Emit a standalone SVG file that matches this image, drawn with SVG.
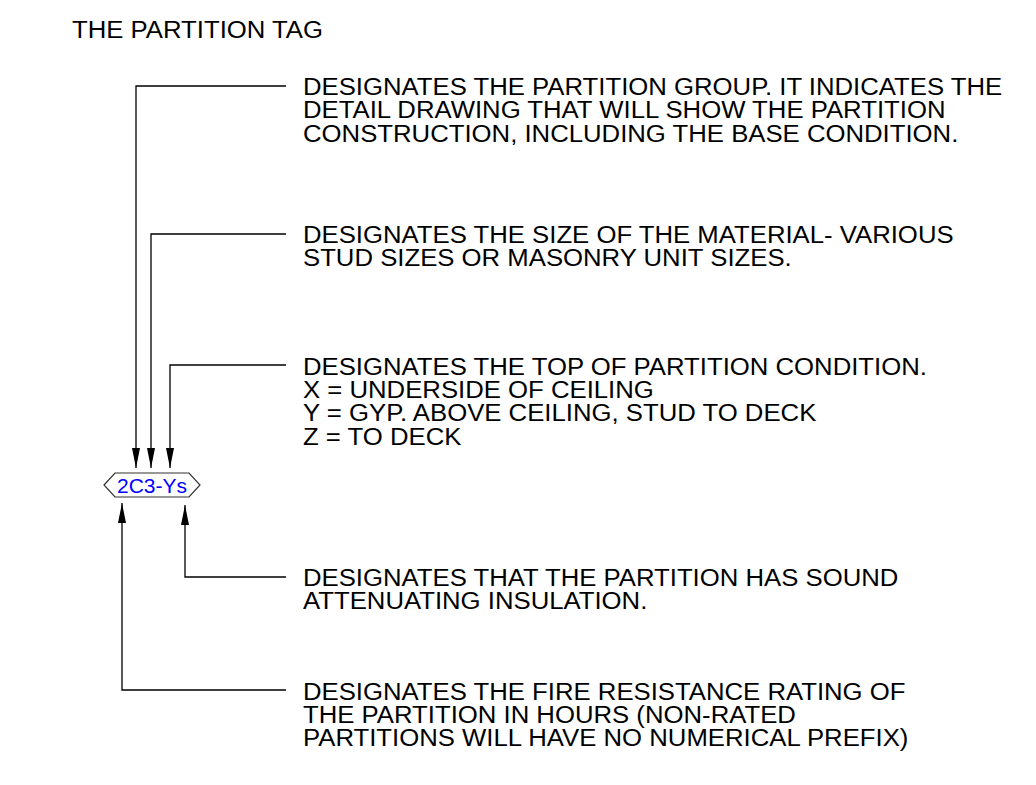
<svg xmlns="http://www.w3.org/2000/svg" width="1036" height="785" viewBox="0 0 1036 785">
<style>
.t{font-family:"Liberation Sans",Arial,sans-serif;font-size:23.5px;fill:#000}
.ld{fill:none;stroke:#000;stroke-width:1.3}
.tag{fill:#fff;stroke:#333;stroke-width:1.2}
.tagt{font-family:"Liberation Sans",Arial,sans-serif;font-size:21px;fill:#0000ff}
</style>
<defs>
<marker id="ah" markerUnits="userSpaceOnUse" markerWidth="22" markerHeight="10" refX="20" refY="4" orient="auto" viewBox="0 0 22 8">
<path d="M0,0 L20,4 L0,8 Z" fill="#000"/>
</marker>
</defs>
<rect width="1036" height="785" fill="#fff"/>
<g id="title">
<text class="t" transform="translate(72,38) scale(1.095,1)">THE PARTITION TAG</text>
</g>
<g id="tag">
<polygon class="tag" points="104,485 115,473 189,473 200,485 189,497 115,497"/>
<text class="tagt" x="152" y="493" text-anchor="middle">2C3-Ys</text>
</g>
<g id="note-group">
<text class="t" transform="translate(303,95) scale(1.095,1)"><tspan x="0" y="0">DESIGNATES THE PARTITION GROUP. IT INDICATES THE</tspan><tspan x="0" y="23.4">DETAIL DRAWING THAT WILL SHOW THE PARTITION</tspan><tspan x="0" y="46.8">CONSTRUCTION, INCLUDING THE BASE CONDITION.</tspan></text>
</g>
<g id="note-size">
<text class="t" transform="translate(303,243) scale(1.095,1)"><tspan x="0" y="0">DESIGNATES THE SIZE OF THE MATERIAL- VARIOUS</tspan><tspan x="0" y="23.4">STUD SIZES OR MASONRY UNIT SIZES.</tspan></text>
</g>
<g id="note-top">
<text class="t" transform="translate(303,374.5) scale(1.095,1)"><tspan x="0" y="0">DESIGNATES THE TOP OF PARTITION CONDITION.</tspan><tspan x="0" y="23.4">X = UNDERSIDE OF CEILING</tspan><tspan x="0" y="46.8">Y = GYP. ABOVE CEILING, STUD TO DECK</tspan><tspan x="0" y="70.2">Z = TO DECK</tspan></text>
</g>
<g id="note-sound">
<text class="t" transform="translate(303,585.5) scale(1.095,1)"><tspan x="0" y="0">DESIGNATES THAT THE PARTITION HAS SOUND</tspan><tspan x="0" y="23.4">ATTENUATING INSULATION.</tspan></text>
</g>
<g id="note-fire">
<text class="t" transform="translate(303,699.5) scale(1.095,1)"><tspan x="0" y="0">DESIGNATES THE FIRE RESISTANCE RATING OF</tspan><tspan x="0" y="23.4">THE PARTITION IN HOURS (NON-RATED</tspan><tspan x="0" y="46.8">PARTITIONS WILL HAVE NO NUMERICAL PREFIX)</tspan></text>
</g>
<g id="connectors">
<path class="ld" d="M286,86 H136 V468" marker-end="url(#ah)"/>
<path class="ld" d="M286,234 H151 V468" marker-end="url(#ah)"/>
<path class="ld" d="M286,365 H170 V468" marker-end="url(#ah)"/>
<path class="ld" d="M286,577 H185 V505" marker-end="url(#ah)"/>
<path class="ld" d="M286,690 H122 V503" marker-end="url(#ah)"/>
</g>
</svg>
